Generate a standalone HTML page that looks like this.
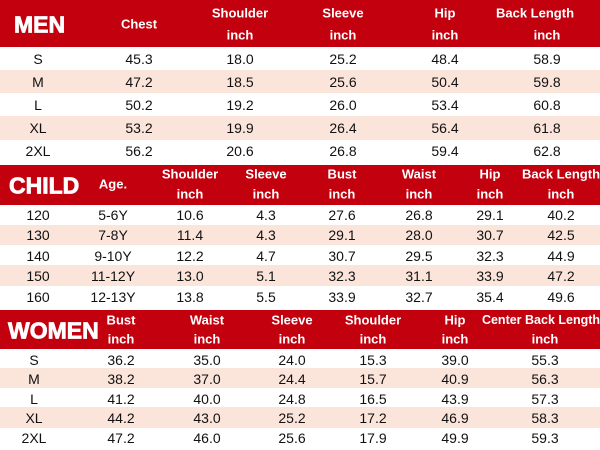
<!DOCTYPE html>
<html><head><meta charset="utf-8"><style>
*{margin:0;padding:0;box-sizing:border-box}
body{width:600px;height:450px;background:#fff;position:relative;overflow:hidden;font-family:"Liberation Sans",Arial,sans-serif;color:#111}
.r{position:absolute;left:0;width:600px;background:#c2000e}
.p{position:absolute;left:0;width:600px;background:#fbe4da}
.t{position:absolute;transform:translate(-50%,-50%);white-space:nowrap;font-size:14px;line-height:1}
.h{color:#fff;font-weight:bold;font-size:13px}
.big{color:#fff;font-weight:bold;font-size:23px;transform:translate(0,-50%);-webkit-text-stroke:0.8px #fff}
</style></head><body>
<div class="r" style="top:0;height:47px"></div>
<div class="p" style="top:70px;height:23px"></div>
<div class="p" style="top:116px;height:24px"></div>
<div class="r" style="top:165px;height:40px"></div>
<div class="p" style="top:225px;height:20px"></div>
<div class="p" style="top:265px;height:21px"></div>
<div class="r" style="top:310px;height:39px"></div>
<div class="p" style="top:368px;height:20px"></div>
<div class="p" style="top:407px;height:21px"></div>

<!-- MEN -->
<span class="t big" style="left:14px;top:25px">MEN</span>
<span class="t h" style="left:139px;top:24px">Chest</span>
<span class="t h" style="left:240px;top:13px">Shoulder</span><span class="t h" style="left:240px;top:35px">inch</span>
<span class="t h" style="left:343px;top:13px">Sleeve</span><span class="t h" style="left:343px;top:35px">inch</span>
<span class="t h" style="left:445px;top:13px">Hip</span><span class="t h" style="left:445px;top:35px">inch</span>
<span class="t h" style="left:535px;top:13px">Back Length</span><span class="t h" style="left:547px;top:35px">inch</span>

<span class="t" style="left:38px;top:59px">S</span><span class="t" style="left:139px;top:59px">45.3</span><span class="t" style="left:240px;top:59px">18.0</span><span class="t" style="left:343px;top:59px">25.2</span><span class="t" style="left:445px;top:59px">48.4</span><span class="t" style="left:547px;top:59px">58.9</span>
<span class="t" style="left:38px;top:82px">M</span><span class="t" style="left:139px;top:82px">47.2</span><span class="t" style="left:240px;top:82px">18.5</span><span class="t" style="left:343px;top:82px">25.6</span><span class="t" style="left:445px;top:82px">50.4</span><span class="t" style="left:547px;top:82px">59.8</span>
<span class="t" style="left:38px;top:105px">L</span><span class="t" style="left:139px;top:105px">50.2</span><span class="t" style="left:240px;top:105px">19.2</span><span class="t" style="left:343px;top:105px">26.0</span><span class="t" style="left:445px;top:105px">53.4</span><span class="t" style="left:547px;top:105px">60.8</span>
<span class="t" style="left:38px;top:128px">XL</span><span class="t" style="left:139px;top:128px">53.2</span><span class="t" style="left:240px;top:128px">19.9</span><span class="t" style="left:343px;top:128px">26.4</span><span class="t" style="left:445px;top:128px">56.4</span><span class="t" style="left:547px;top:128px">61.8</span>
<span class="t" style="left:38px;top:151px">2XL</span><span class="t" style="left:139px;top:151px">56.2</span><span class="t" style="left:240px;top:151px">20.6</span><span class="t" style="left:343px;top:151px">26.8</span><span class="t" style="left:445px;top:151px">59.4</span><span class="t" style="left:547px;top:151px">62.8</span>

<!-- CHILD -->
<span class="t big" style="left:9px;top:186px">CHILD</span>
<span class="t h" style="left:113px;top:184px">Age.</span>
<span class="t h" style="left:190px;top:174px">Shoulder</span><span class="t h" style="left:190px;top:194px">inch</span>
<span class="t h" style="left:266px;top:174px">Sleeve</span><span class="t h" style="left:266px;top:194px">inch</span>
<span class="t h" style="left:342px;top:174px">Bust</span><span class="t h" style="left:342px;top:194px">inch</span>
<span class="t h" style="left:419px;top:174px">Waist</span><span class="t h" style="left:419px;top:194px">inch</span>
<span class="t h" style="left:490px;top:174px">Hip</span><span class="t h" style="left:490px;top:194px">inch</span>
<span class="t h" style="left:561px;top:174px">Back Length</span><span class="t h" style="left:561px;top:194px">inch</span>

<span class="t" style="left:38px;top:215px">120</span><span class="t" style="left:113px;top:215px">5-6Y</span><span class="t" style="left:190px;top:215px">10.6</span><span class="t" style="left:266px;top:215px">4.3</span><span class="t" style="left:342px;top:215px">27.6</span><span class="t" style="left:419px;top:215px">26.8</span><span class="t" style="left:490px;top:215px">29.1</span><span class="t" style="left:561px;top:215px">40.2</span>
<span class="t" style="left:38px;top:235px">130</span><span class="t" style="left:113px;top:235px">7-8Y</span><span class="t" style="left:190px;top:235px">11.4</span><span class="t" style="left:266px;top:235px">4.3</span><span class="t" style="left:342px;top:235px">29.1</span><span class="t" style="left:419px;top:235px">28.0</span><span class="t" style="left:490px;top:235px">30.7</span><span class="t" style="left:561px;top:235px">42.5</span>
<span class="t" style="left:38px;top:256px">140</span><span class="t" style="left:113px;top:256px">9-10Y</span><span class="t" style="left:190px;top:256px">12.2</span><span class="t" style="left:266px;top:256px">4.7</span><span class="t" style="left:342px;top:256px">30.7</span><span class="t" style="left:419px;top:256px">29.5</span><span class="t" style="left:490px;top:256px">32.3</span><span class="t" style="left:561px;top:256px">44.9</span>
<span class="t" style="left:38px;top:276px">150</span><span class="t" style="left:113px;top:276px">11-12Y</span><span class="t" style="left:190px;top:276px">13.0</span><span class="t" style="left:266px;top:276px">5.1</span><span class="t" style="left:342px;top:276px">32.3</span><span class="t" style="left:419px;top:276px">31.1</span><span class="t" style="left:490px;top:276px">33.9</span><span class="t" style="left:561px;top:276px">47.2</span>
<span class="t" style="left:38px;top:297px">160</span><span class="t" style="left:113px;top:297px">12-13Y</span><span class="t" style="left:190px;top:297px">13.8</span><span class="t" style="left:266px;top:297px">5.5</span><span class="t" style="left:342px;top:297px">33.9</span><span class="t" style="left:419px;top:297px">32.7</span><span class="t" style="left:490px;top:297px">35.4</span><span class="t" style="left:561px;top:297px">49.6</span>

<!-- WOMEN -->
<span class="t big" style="left:8px;top:331px">WOMEN</span>
<span class="t h" style="left:121px;top:320px">Bust</span><span class="t h" style="left:121px;top:339px">inch</span>
<span class="t h" style="left:207px;top:320px">Waist</span><span class="t h" style="left:207px;top:339px">inch</span>
<span class="t h" style="left:292px;top:320px">Sleeve</span><span class="t h" style="left:292px;top:339px">inch</span>
<span class="t h" style="left:373px;top:320px">Shoulder</span><span class="t h" style="left:373px;top:339px">inch</span>
<span class="t h" style="left:455px;top:320px">Hip</span><span class="t h" style="left:455px;top:339px">inch</span>
<span class="t h" style="left:541px;top:320px;font-size:12.5px">Center Back Length</span><span class="t h" style="left:545px;top:339px">inch</span>

<span class="t" style="left:34px;top:360px">S</span><span class="t" style="left:121px;top:360px">36.2</span><span class="t" style="left:207px;top:360px">35.0</span><span class="t" style="left:292px;top:360px">24.0</span><span class="t" style="left:373px;top:360px">15.3</span><span class="t" style="left:455px;top:360px">39.0</span><span class="t" style="left:545px;top:360px">55.3</span>
<span class="t" style="left:34px;top:379px">M</span><span class="t" style="left:121px;top:379px">38.2</span><span class="t" style="left:207px;top:379px">37.0</span><span class="t" style="left:292px;top:379px">24.4</span><span class="t" style="left:373px;top:379px">15.7</span><span class="t" style="left:455px;top:379px">40.9</span><span class="t" style="left:545px;top:379px">56.3</span>
<span class="t" style="left:34px;top:399px">L</span><span class="t" style="left:121px;top:399px">41.2</span><span class="t" style="left:207px;top:399px">40.0</span><span class="t" style="left:292px;top:399px">24.8</span><span class="t" style="left:373px;top:399px">16.5</span><span class="t" style="left:455px;top:399px">43.9</span><span class="t" style="left:545px;top:399px">57.3</span>
<span class="t" style="left:34px;top:418px">XL</span><span class="t" style="left:121px;top:418px">44.2</span><span class="t" style="left:207px;top:418px">43.0</span><span class="t" style="left:292px;top:418px">25.2</span><span class="t" style="left:373px;top:418px">17.2</span><span class="t" style="left:455px;top:418px">46.9</span><span class="t" style="left:545px;top:418px">58.3</span>
<span class="t" style="left:34px;top:438px">2XL</span><span class="t" style="left:121px;top:438px">47.2</span><span class="t" style="left:207px;top:438px">46.0</span><span class="t" style="left:292px;top:438px">25.6</span><span class="t" style="left:373px;top:438px">17.9</span><span class="t" style="left:455px;top:438px">49.9</span><span class="t" style="left:545px;top:438px">59.3</span>
</body></html>
